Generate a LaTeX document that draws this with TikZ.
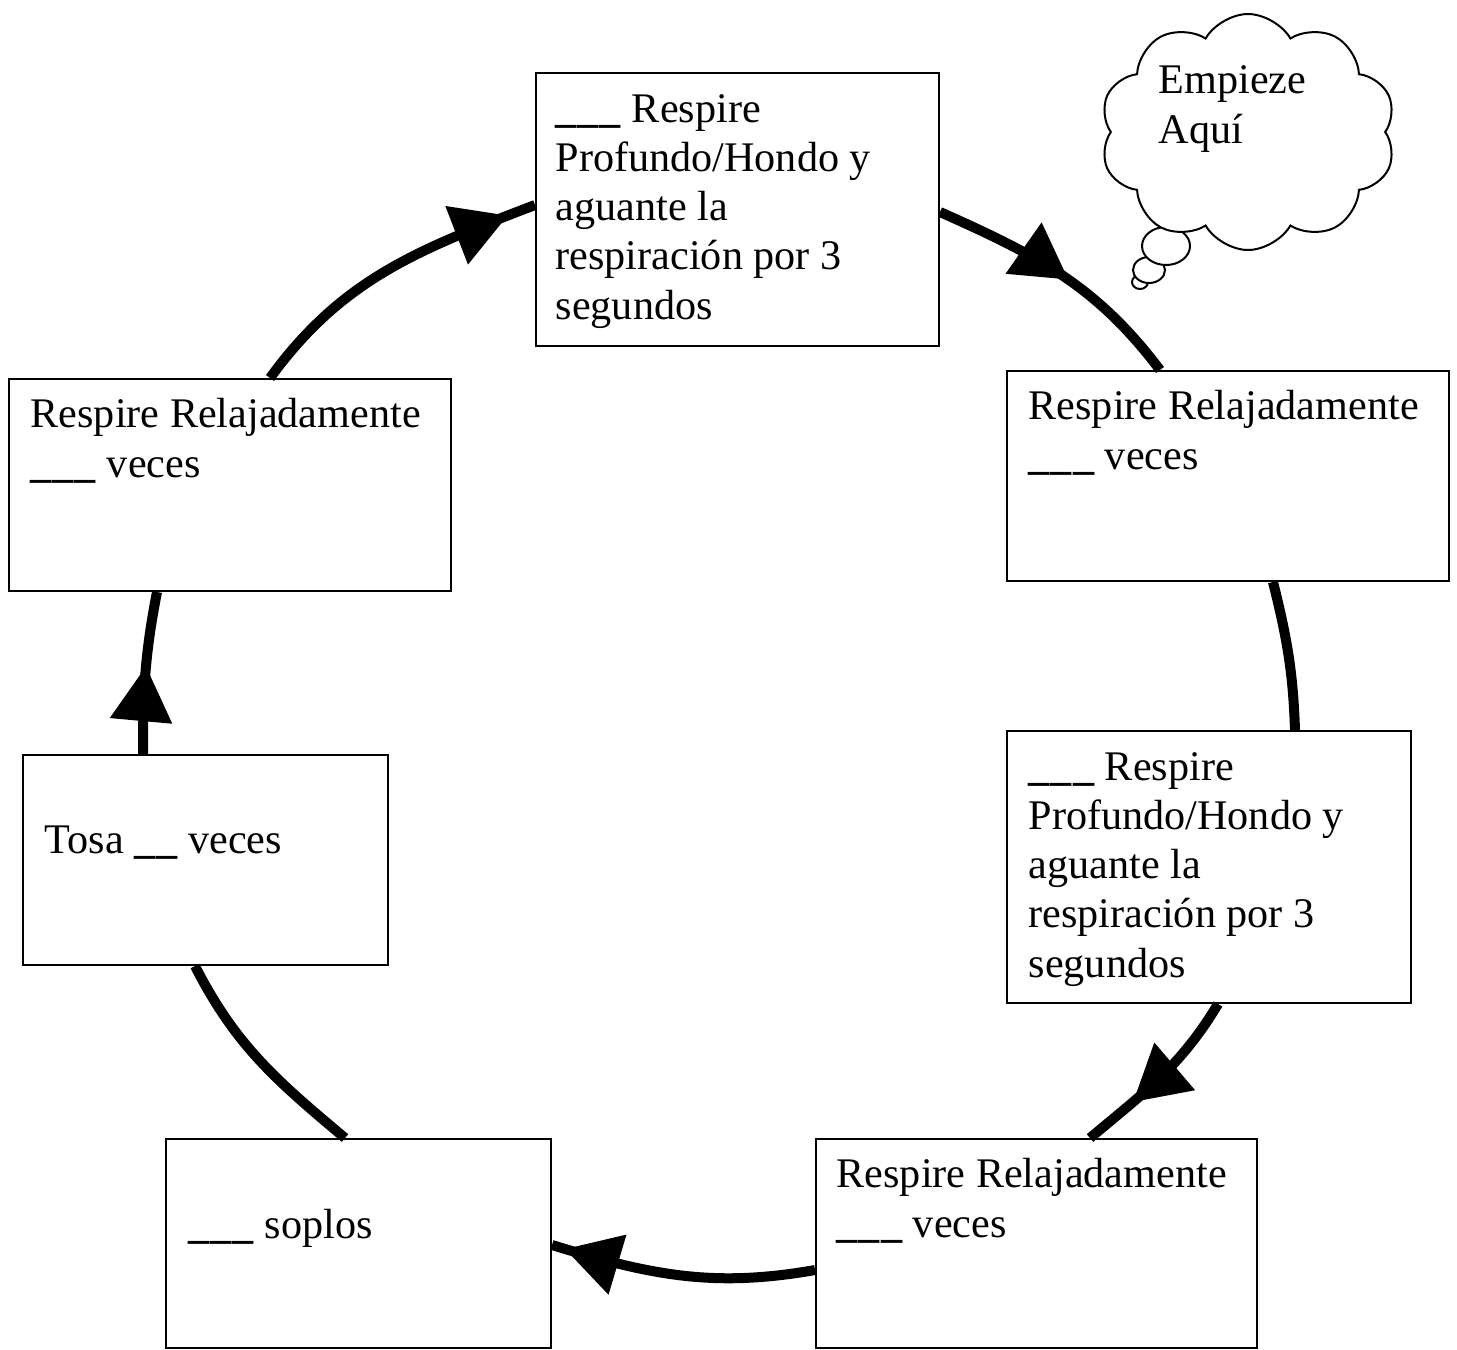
\documentclass[tikz,border=0pt]{standalone}
\usepackage{fontspec}
\setmainfont{Liberation Serif}
\usetikzlibrary{
  calc,positioning,arrows.meta,
  shapes.geometric,shapes.symbols,
  decorations.markings
}

\newcommand{\raya}{\textbf{\_\kern0.3pt\_\kern0.3pt\_}}
\newcommand{\rayita}{\textbf{\_\kern0.3pt\_}}

\tikzset{
  paso/.style={draw,line width=0.2mm,anchor=north west,inner sep=0pt},
  texto/.style={anchor=base west,inner sep=0pt,align=left,
    font=\fontsize{12}{14}\selectfont},
  flecha/.style={line width=1mm},
  punta/.style={postaction={decorate},decoration={markings,
    mark=at position #1 with {\arrow{Triangle[length=5.5mm,width=6mm]}}}},
  burbuja/.style={draw,line width=0.2mm,fill=white,ellipse,inner sep=0pt}
}

\begin{document}
\begin{tikzpicture}[x=0.1mm,y=0.1mm]
\useasboundingbox (0,0) rectangle (1457,-1349);

% cajas
\node[paso,minimum width=40.3mm,minimum height=27.3mm] (arriba) at (535,-72) {};
\node[paso,minimum width=44.2mm,minimum height=21.0mm] (derarriba) at (1006,-370) {};
\node[paso,minimum width=40.4mm,minimum height=27.2mm] (derabajo) at (1006,-730) {};
\node[paso,minimum width=44.1mm,minimum height=20.9mm] (abajoder) at (815,-1138) {};
\node[paso,minimum width=38.5mm,minimum height=20.9mm] (abajoizq) at (165,-1138) {};
\node[paso,minimum width=36.5mm,minimum height=21.0mm] (tosa) at (22,-754) {};
\node[paso,minimum width=44.2mm,minimum height=21.2mm] (izqarriba) at (8,-378) {};

% textos (anclados en la ultima linea)
\node[texto] (arribatxt) at (555,-319)
  {\raya{} Respire\\Profundo/Hondo y\\aguante la\\respiraci\'on por 3\\segundos};
\node[texto] (derarribatxt) at (1028,-469) {Respire Relajadamente\\\raya{} veces};
\node[texto] (derabajotxt) at (1028,-977)
  {\raya{} Respire\\Profundo/Hondo y\\aguante la\\respiraci\'on por 3\\segundos};
\node[texto] (abajodertxt) at (836,-1237) {Respire Relajadamente\\\raya{} veces};
\node[texto] (abajoizqtxt) at (188,-1238) {\raya{} soplos};
\node[texto] (tosatxt) at (44,-853) {Tosa \rayita{} veces};
\node[texto] (izqarribatxt) at (30,-477) {Respire Relajadamente\\\raya{} veces};

% nube
\node[burbuja,minimum width=1.6mm,minimum height=1.4mm] (burbuja3) at (1140,-282) {};
\node[burbuja,minimum width=3.2mm,minimum height=2.6mm] (burbuja2) at (1149,-270) {};
\node[burbuja,minimum width=4.8mm,minimum height=3.8mm] (burbuja1) at (1166,-246) {};
\node[draw,line width=0.2mm,fill=white,cloud,cloud puffs=10,cloud puff arc=120,
  minimum width=29.6mm,minimum height=23.6mm] (nube) at (1248,-132) {};
\node[texto] (nubetxt) at (1158,-143) {Empieze\\Aqu\'i};

% flechas
\draw[flecha,punta=0.91] ($(izqarriba.north west)+(262,0)$)
  to[out=54,in=201] ($(arriba.north west)+(0,-133)$);
\draw[flecha,punta=0.53] ($(arriba.north east)+(0,-140)$)
  to[out=-24,in=127] ($(derarriba.north west)+(154,0)$);
\draw[flecha] ($(derarriba.south west)+(267,0)$)
  to[out=-76,in=92] ($(derabajo.north west)+(289,0)$);
\draw[flecha,punta=0.7] ($(derabajo.south west)+(212,0)$)
  to[out=-121,in=40] ($(abajoder.north west)+(275,0)$);
\draw[flecha,punta=0.95] ($(abajoder.north west)+(0,-132)$)
  to[out=190,in=-17] ($(abajoizq.north east)+(0,-107)$);
\draw[flecha] ($(abajoizq.north west)+(180,0)$)
  to[out=140,in=-63] ($(tosa.south west)+(173,0)$);
\draw[flecha,punta=0.54] ($(tosa.north west)+(121,0)$)
  to[out=90,in=-101] ($(izqarriba.south west)+(149,0)$);
\end{tikzpicture}
\end{document}
